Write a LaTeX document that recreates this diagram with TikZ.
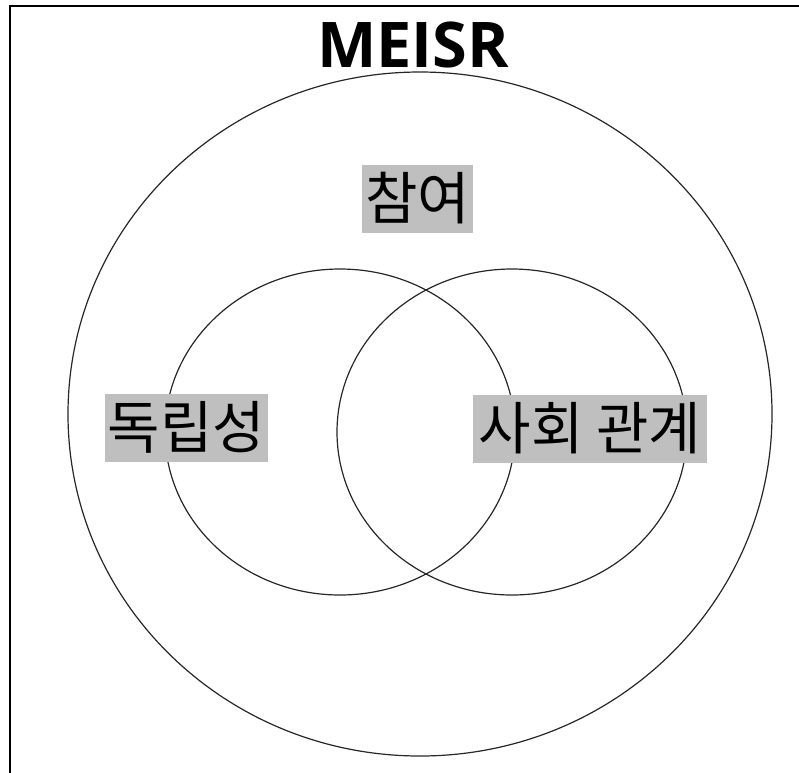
\documentclass[tikz,border=0pt]{standalone}
\usepackage{fontspec}
\setmainfont{Open Sans}
\newfontfamily\krfont{Noto Sans CJK KR}
\usetikzlibrary{positioning}

\begin{document}
\begin{tikzpicture}[x=1pt, y=-1pt,
  ring/.style={line width=1.2pt, black!85},
  tag/.style={fill=gray!50, inner xsep=3pt, inner ysep=0pt, minimum height=68pt,
    font=\krfont\fontsize{57}{62}\selectfont}]

\useasboundingbox (0,0) rectangle (799,772);
\begin{scope}
\clip (0,0) rectangle (799,772);
\draw[line width=1.2pt] (10,6) rectangle (830,800);
\end{scope}

\draw[ring] (420,414) ellipse [x radius=352, y radius=342];
\draw[ring] (340,432) ellipse [x radius=175, y radius=163];
\draw[ring] (512,432) ellipse [x radius=175, y radius=163];

\node[inner sep=0pt, font=\bfseries\fontsize{63}{70}\selectfont] (title) at (413,45) {MEISR};

\node[tag] (participation) at (417.5,198.5) {참여};
\node[tag] (independence) at (186.5,427.5) {독립성};
\node[tag, minimum width=234pt] (social) at (590,428.5) {사회 관계};

\end{tikzpicture}
\end{document}
